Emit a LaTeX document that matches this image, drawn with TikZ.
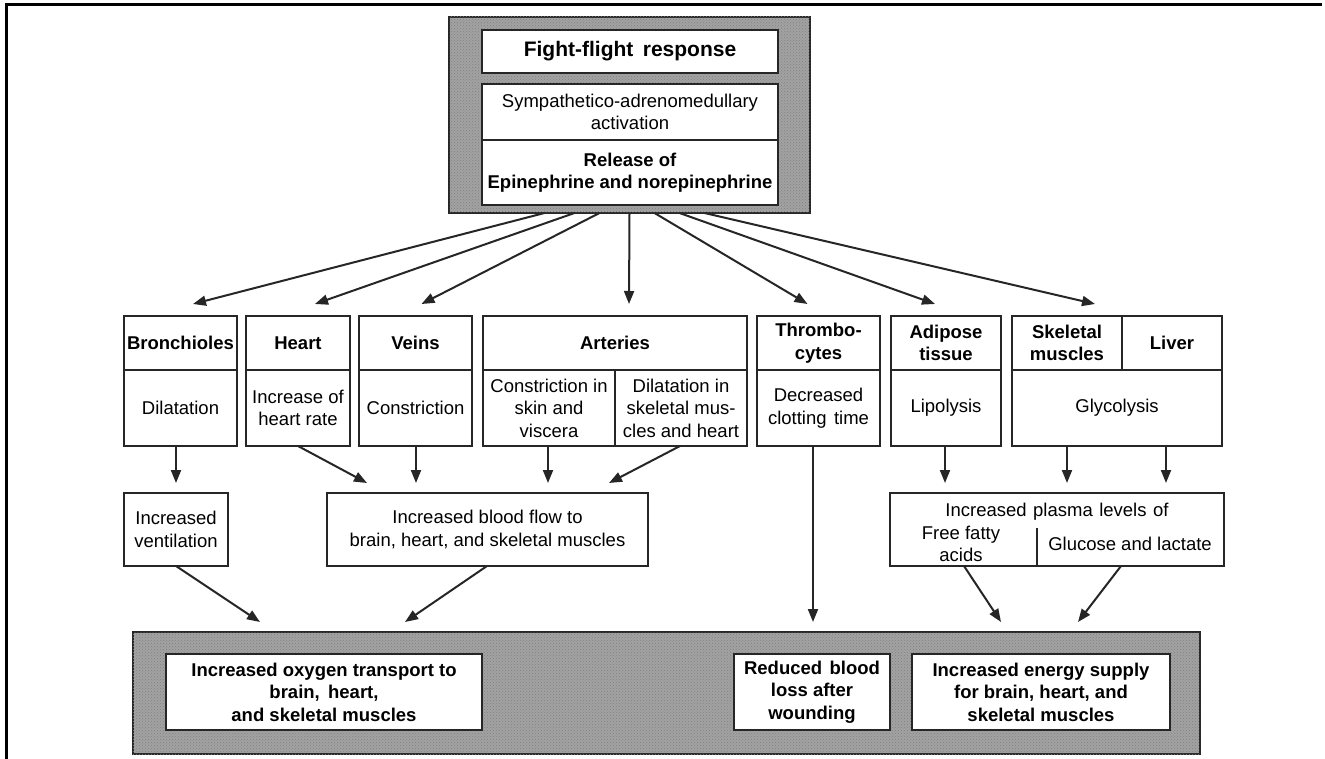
\documentclass[tikz,border=0pt]{standalone}
\usepackage{fontspec}
\setmainfont{Liberation Sans}
\usetikzlibrary{arrows.meta,patterns}
\definecolor{linec}{HTML}{262626}
\definecolor{shadec}{HTML}{A2A2A2}
\newcommand{\bodyfont}{\fontsize{18.5}{22.5}\selectfont}
\newcommand{\hdfont}{\fontsize{18.5}{22.5}\selectfont\bfseries}
\newcommand{\titlefont}{\fontsize{21}{25}\selectfont\bfseries}
\tikzset{
  cell/.style={draw=linec, line width=1.7pt, fill=white, inner sep=0pt, outer sep=0pt, align=center, font=\bodyfont},
  hcell/.style={cell, font=\hdfont},
  shadebox/.style={draw=linec, line width=1.7pt, fill=shadec, inner sep=0pt, outer sep=0pt,
    postaction={pattern=crosshatch dots, pattern color=black!50}},
  txt/.style={inner sep=0pt, outer sep=0pt, align=center, font=\bodyfont},
  arr/.style={draw=linec, line width=2pt, -{Triangle[length=13pt,width=10pt]}},
}
\begin{document}
\begin{tikzpicture}[x=1pt,y=-1pt]
\useasboundingbox (0,0) rectangle (1325,759);
% page frame (top and left edges)
\draw[line width=3pt] (6,759) -- (6,5) -- (1322,5);

% ---- top block ----
\node[shadebox, minimum width=361, minimum height=196] (topbg) at (629.5,115) {};
\node[cell, minimum width=296, minimum height=43, font=\titlefont] (t1) at (630,51.5) {Fight-flight\hspace{0.45em}response};
\node[cell, minimum width=296, minimum height=56] (t2) at (630,112) {Sympathetico-adrenomedullary\\activation};
\node[hcell, minimum width=296, minimum height=65] (t3) at (630,172.5) {Release of\\Epinephrine and norepinephrine};

% ---- organ row: headers ----
\node[hcell, minimum width=113, minimum height=54] (bronH) at (180.5,343) {Bronchioles};
\node[hcell, minimum width=104, minimum height=54] (heartH) at (298,343) {Heart};
\node[hcell, minimum width=113, minimum height=54] (veinsH) at (415.5,343) {Veins};
\node[hcell, minimum width=264, minimum height=54] (artH) at (615,343) {Arteries};
\node[hcell, minimum width=123, minimum height=54] (thrH) at (818.5,343) {Thrombo-\\cytes};
\node[hcell, minimum width=110, minimum height=54] (adiH) at (946,343) {Adipose\\tissue};
\node[hcell, minimum width=110, minimum height=54] (skelH) at (1067,343) {Skeletal\\muscles};
\node[hcell, minimum width=100, minimum height=54] (livH) at (1172,343) {Liver};

% ---- organ row: effects ----
\node[cell, minimum width=113, minimum height=76] (bronB) at (180.5,408) {Dilatation};
\node[cell, minimum width=104, minimum height=76] (heartB) at (298,408) {Increase of\\heart rate};
\node[cell, minimum width=113, minimum height=76] (veinsB) at (415.5,408) {Constriction};
\node[cell, minimum width=132, minimum height=76] (artLB) at (549,408) {Constriction in\\skin and\\viscera};
\node[cell, minimum width=132, minimum height=76] (artRB) at (681,408) {Dilatation in\\skeletal mus-\\cles and heart};
\node[cell, minimum width=123, minimum height=76] (thrB) at (818.5,408) {Decreased\\clotting\hspace{0.4em}time};
\node[cell, minimum width=110, minimum height=76] (adiB) at (946,408) {Lipolysis};
\node[cell, minimum width=210, minimum height=76] (glyB) at (1117,408) {Glycolysis};

% ---- second row ----
\node[cell, minimum width=104, minimum height=73] (vent) at (176,529.5) {Increased\\ventilation};
\node[cell, minimum width=321, minimum height=73] (blood) at (487.5,529.5) {Increased blood flow to\\brain, heart, and skeletal muscles};
\node[cell, minimum width=334, minimum height=73] (plasma) at (1057,529.5) {};
\node[txt] (plasmaT) at (1057,512) {Increased\hspace{0.35em}plasma\hspace{0.35em}levels\hspace{0.35em}of};
\node[txt] (ffa) at (961,544) {Free fatty\\acids};
\node[txt] (glu) at (1130,544) {Glucose and lactate};
\draw[draw=linec, line width=1.7pt] ([xshift=-20pt]plasma.south) -- ++(0,-38);

% ---- bottom block ----
\node[shadebox, minimum width=1067, minimum height=122] (botbg) at (666.5,693) {};
\node[hcell, minimum width=316, minimum height=76] (oxy) at (324,692) {Increased oxygen transport to\\brain,\hspace{0.45em}heart,\\and skeletal muscles};
\node[hcell, minimum width=156, minimum height=76] (red) at (812,692) {Reduced\hspace{0.4em}blood\\loss after\\wounding};
\node[hcell, minimum width=258, minimum height=76] (ene) at (1041,692) {Increased energy supply\\for brain, heart, and\\skeletal muscles};

% ---- arrows from top block ----
\draw[arr] ([xshift=-85pt]topbg.south) -- ([xshift=12.5pt,yshift=12pt]bronH.north);
\draw[arr] ([xshift=-55pt]topbg.south) -- ([xshift=17pt,yshift=12pt]heartH.north);
\draw[arr] ([xshift=-30pt]topbg.south) -- ([xshift=6pt,yshift=12pt]veinsH.north);
\draw[arr] ([xshift=0pt]topbg.south) -- ([xshift=14pt,yshift=12pt]artH.north);
\draw[arr] ([xshift=25pt]topbg.south) -- ([xshift=-11pt,yshift=12pt]thrH.north);
\draw[arr] ([xshift=50pt]topbg.south) -- ([xshift=-11pt,yshift=12pt]adiH.north);
\draw[arr] ([xshift=75pt]topbg.south) -- ([xshift=28pt,yshift=12pt]skelH.north);

% ---- arrows to second row ----
\draw[arr] ([xshift=-4.5pt]bronB.south) -- ([yshift=10pt]vent.north);
\draw[arr] (heartB.south) -- ([xshift=-120.5pt,yshift=10pt]blood.north);
\draw[arr] ([xshift=0.5pt]veinsB.south) -- ([xshift=-71.5pt,yshift=10pt]blood.north);
\draw[arr] ([xshift=-1pt]artLB.south) -- ([xshift=60.5pt,yshift=10pt]blood.north);
\draw[arr] ([xshift=-1pt]artRB.south) -- ([xshift=121.5pt,yshift=10pt]blood.north);
\draw[arr] ([xshift=-1pt]adiB.south) -- ([xshift=-112pt,yshift=10pt]plasma.north);
\draw[arr] ([xshift=-50pt]glyB.south) -- ([xshift=10pt,yshift=10pt]plasma.north);
\draw[arr] ([xshift=49pt]glyB.south) -- ([xshift=109pt,yshift=10pt]plasma.north);

% ---- arrows to bottom block ----
\draw[arr] ([xshift=-5.5pt]thrB.south) -- ([xshift=1pt,yshift=32pt]red.north);
\draw[arr] (vent.south) -- ([xshift=-64pt,yshift=32pt]oxy.north);
\draw[arr] ([xshift=-0.5pt]blood.south) -- ([xshift=81pt,yshift=32pt]oxy.north);
\draw[arr] ([xshift=-93pt]plasma.south) -- ([xshift=-40pt,yshift=32pt]ene.north);
\draw[arr] ([xshift=64pt]plasma.south) -- ([xshift=37pt,yshift=32pt]ene.north);
\end{tikzpicture}
\end{document}
